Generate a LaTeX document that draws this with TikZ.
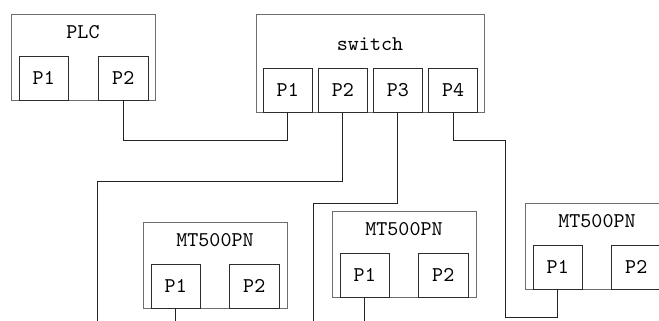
\documentclass[tikz,border=0pt]{standalone}
\usetikzlibrary{positioning}
\definecolor{boxgray}{RGB}{110,110,110}
\definecolor{portgray}{RGB}{45,45,45}
\definecolor{wiregray}{RGB}{35,35,35}

\begin{document}
\begin{tikzpicture}[x=0.5pt, y=-0.5pt,
  device/.style={rectangle, draw=boxgray, line width=0.5pt, minimum width=72pt,
                 minimum height=43pt, inner sep=0pt, outer sep=0pt, anchor=north west},
  port/.style={rectangle, draw=portgray, line width=0.5pt, minimum width=24.75pt,
               minimum height=22pt, inner sep=0pt, outer sep=0pt,
               font=\ttfamily\fontsize{10.5}{12}\selectfont},
  title/.style={inner sep=0pt, anchor=center, font=\ttfamily\fontsize{10.5}{12}\selectfont},
  wire/.style={draw=wiregray, line width=0.5pt}
]
\useasboundingbox (0,0) rectangle (659,321);
\clip (0,0) rectangle (659,321);

% PLC
\node[device, label={[title, name=plctitle, yshift=-9pt]north:PLC}] (plc) at (11,14) {};
\node[port, above right=0pt and 4pt of plc.south west] (plcP1) {P1};
\node[port, above left=0pt and 3.5pt of plc.south east] (plcP2) {P2};

% switch
\node[device, minimum width=114pt, minimum height=49pt,
      label={[title, name=swtitle, yshift=-15pt]north:switch}] (sw) at (256,14) {};
\node[port, above right=0pt and 3.5pt of sw.south west] (swP1) {P1};
\node[port, right=2.8pt of swP1] (swP2) {P2};
\node[port, right=2.8pt of swP2] (swP3) {P3};
\node[port, right=2.8pt of swP3] (swP4) {P4};

% MT500PN
\node[device, label={[title, name=mt1title, yshift=-9pt]north:MT500PN}] (mt1) at (143,222) {};
\node[port, above right=0pt and 4pt of mt1.south west] (mt1P1) {P1};
\node[port, above left=0pt and 4pt of mt1.south east] (mt1P2) {P2};

\node[device, label={[title, name=mt2title, yshift=-9pt]north:MT500PN}] (mt2) at (332,211) {};
\node[port, above right=0pt and 4pt of mt2.south west] (mt2P1) {P1};
\node[port, above left=0pt and 4pt of mt2.south east] (mt2P2) {P2};

\node[device, label={[title, name=mt3title, yshift=-9pt]north:MT500PN}] (mt3) at (525,203) {};
\node[port, above right=0pt and 4pt of mt3.south west] (mt3P1) {P1};
\node[port, above left=0pt and 4pt of mt3.south east] (mt3P2) {P2};

% cable ends
\coordinate (cut2) at (97,330);
\coordinate (cut3) at (313,330);
\coordinate (bend4) at (505,317);

\draw[wire] (plcP2.south) -- ++(0,40) -| (swP1.south);
\draw[wire] (swP2.south) -- ++(0,69) -| (cut2);
\draw[wire] (swP3.south) -- ++(0,91) -| (cut3);
\draw[wire] (swP4.south) -- ++(0,28) -| (bend4) -| (mt3P1.south);
\draw[wire] (mt1P1.south) -- ++(0,25);
\draw[wire] (mt2P1.south) -- ++(0,25);
\end{tikzpicture}
\end{document}
